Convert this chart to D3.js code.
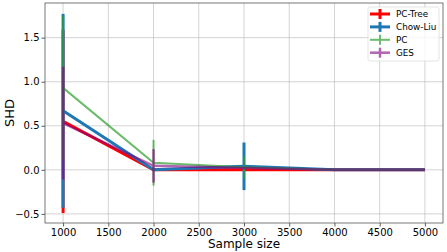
<!DOCTYPE html>
<html>
<head>
<meta charset="utf-8">
<script src="https://cdn.jsdelivr.net/npm/d3@7"></script>
<style>
  body { margin: 0; background: #fff; }
  text { font-family: "DejaVu Sans", sans-serif; fill: #000; }
</style>
</head>
<body>
<div id="chart-area"></div>
<script>
const sampleSizes = [1000, 2000, 3000, 4000, 5000];
const methods = ['PC-Tree', 'Chow-Liu', 'PC', 'GES'];
const pcTreeMean = [0.55, 0.0, 0.0, 0.0, 0.0];
const pcTreeErr = [1.04, 0.0, 0.0, 0.0, 0.0];
const chowLiuMean = [0.67, 0.0, 0.04, 0.0, 0.0];
const chowLiuErr = [1.1, 0.0, 0.27, 0.0, 0.0];
const pcMean = [0.93, 0.08, 0.03, 0.0, 0.0];
const pcErr = [0.82, 0.26, 0.13, 0.0, 0.0];
const gesMean = [0.53, 0.045, 0.02, 0.0, 0.0];
const gesErr = [0.64, 0.19, 0.0, 0.0, 0.0];
const xTicks = [1000, 1500, 2000, 2500, 3000, 3500, 4000, 4500, 5000];
const yTicks = [-0.5, 0.0, 0.5, 1.0, 1.5];

const chartSize = { width: 447, height: 252 };
const margin = { left: 45, right: 4, top: 3, bottom: 29 };
const width = chartSize.width - margin.left - margin.right;
const height = chartSize.height - margin.top - margin.bottom;

const series = [
  { name: methods[0], mean: pcTreeMean, err: pcTreeErr, color: '#ff0000', lw: 3, alpha: 1 },
  { name: methods[1], mean: chowLiuMean, err: chowLiuErr, color: '#1f77b4', lw: 3, alpha: 1 },
  { name: methods[2], mean: pcMean, err: pcErr, color: '#2ca02c', lw: 2, alpha: 0.7 },
  { name: methods[3], mean: gesMean, err: gesErr, color: '#800080', lw: 2.5, alpha: 0.6 }
];

const svg = d3.select('#chart-area').append('svg')
  .attr('width', chartSize.width)
  .attr('height', chartSize.height);

const g = svg.append('g')
  .attr('transform', `translate(${margin.left},${margin.top})`);

const x = d3.scaleLinear().domain([800, 5200]).range([0, width]);
const y = d3.scaleLinear().domain([-0.6035, 1.8935]).range([height, 0]);

// grid
g.append('g').selectAll('line').data(xTicks).enter().append('line')
  .attr('x1', d => x(d)).attr('x2', d => x(d))
  .attr('y1', 0).attr('y2', height)
  .attr('stroke', '#b0b0b0').attr('stroke-opacity', 0.55).attr('stroke-width', 1);
g.append('g').selectAll('line').data(yTicks).enter().append('line')
  .attr('y1', d => y(d)).attr('y2', d => y(d))
  .attr('x1', 0).attr('x2', width)
  .attr('stroke', '#b0b0b0').attr('stroke-opacity', 0.55).attr('stroke-width', 1);

// series
series.forEach(s => {
  const sg = g.append('g').attr('opacity', s.alpha);
  const pts = sampleSizes.map((n, i) => ({ n, m: s.mean[i], e: s.err[i] }));
  sg.append('path')
    .attr('d', d3.line().x(p => x(p.n)).y(p => y(p.m))(pts))
    .attr('fill', 'none')
    .attr('stroke', s.color)
    .attr('stroke-width', s.lw);
  sg.selectAll('line.err').data(pts.filter(p => p.e > 0)).enter().append('line')
    .attr('class', 'err')
    .attr('x1', p => x(p.n)).attr('x2', p => x(p.n))
    .attr('y1', p => y(p.m - p.e)).attr('y2', p => y(p.m + p.e))
    .attr('stroke', s.color)
    .attr('stroke-width', s.lw);
});

// axes
const xAxis = d3.axisBottom(x).tickValues(xTicks).tickFormat(d3.format('d')).tickSize(3.5).tickPadding(2);
const yAxis = d3.axisLeft(y).tickValues(yTicks).tickFormat(d => d3.format('.1f')(d).replace('-', '\u2212')).tickSize(3.5).tickPadding(2);

const xg = g.append('g').attr('transform', `translate(0,${height})`).call(xAxis);
const yg = g.append('g').call(yAxis);
[xg, yg].forEach(a => {
  a.select('.domain').remove();
  a.selectAll('.tick line').attr('stroke', '#333').attr('stroke-width', 0.8);
  a.selectAll('.tick text').attr('font-size', 10).attr('font-family', 'DejaVu Sans');
});

g.append('rect')
  .attr('width', width).attr('height', height)
  .attr('fill', 'none').attr('stroke', '#555').attr('stroke-width', 0.8);

g.append('text')
  .attr('x', width / 2)
  .attr('y', height + 25)
  .attr('text-anchor', 'middle')
  .attr('font-size', 12)
  .text('Sample size');

g.append('text')
  .attr('transform', `translate(${-31},${height / 2}) rotate(-90)`)
  .attr('text-anchor', 'middle')
  .attr('font-size', 13)
  .text('SHD');

// legend
const lg = g.append('g').attr('transform', `translate(${323},${4})`);
lg.append('rect')
  .attr('width', 71).attr('height', 54).attr('rx', 2)
  .attr('fill', '#fff').attr('fill-opacity', 0.8)
  .attr('stroke', '#ddd').attr('stroke-width', 0.8);
series.forEach((s, i) => {
  const row = lg.append('g').attr('transform', `translate(0,${7 + i * 12.9})`);
  const h = row.append('g').attr('opacity', s.alpha);
  h.append('line').attr('x1', 2).attr('x2', 22).attr('stroke', s.color).attr('stroke-width', s.lw);
  h.append('line').attr('x1', 12).attr('x2', 12).attr('y1', -5).attr('y2', 5).attr('stroke', s.color).attr('stroke-width', s.lw);
  row.append('text').attr('x', 28).attr('y', 3.2).attr('font-size', 8.8).text(s.name);
});
</script>
</body>
</html>
